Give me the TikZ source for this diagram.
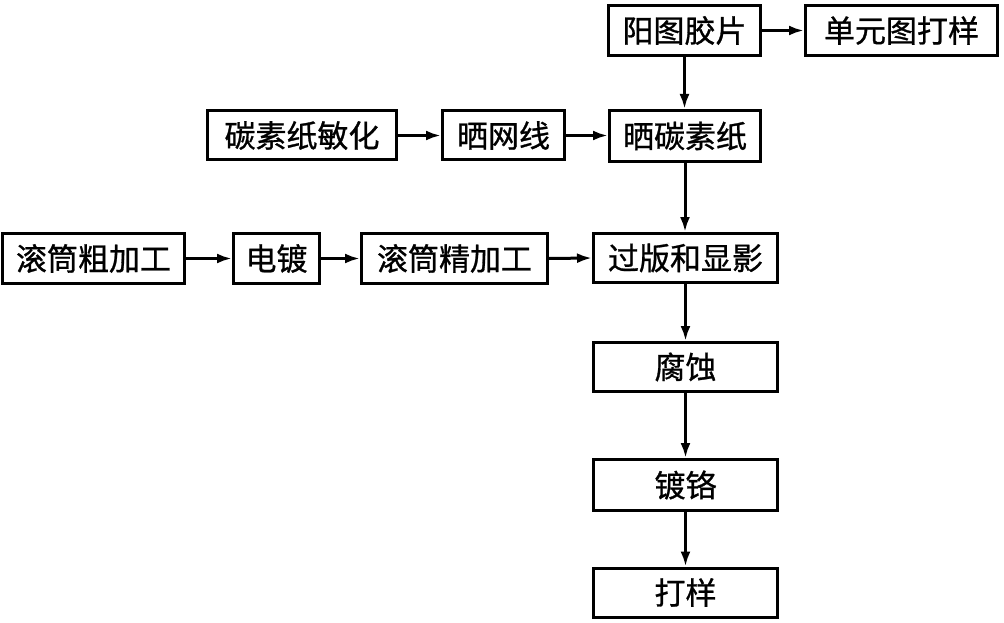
\documentclass[tikz,border=0pt]{standalone}
\usepackage{fontspec}
\setmainfont{Noto Sans CJK SC}
\newfontfamily\boxfont{Noto Sans CJK SC}[FakeBold=0.9]
\usetikzlibrary{arrows.meta}
\tikzset{
  box/.style={draw, line width=3pt, inner sep=0pt, font=\boxfont\fontsize{31}{31}\selectfont},
  arr/.style={line width=3pt, -{Latex[length=15pt,width=10pt]}}
}
\begin{document}
\begin{tikzpicture}[x=1pt,y=-1pt]
\useasboundingbox (0,0) rectangle (1004,623);
\node[box, minimum width=152pt, minimum height=50pt] (yt) at (684.5,30.5) {阳图胶片};
\node[box, minimum width=192pt, minimum height=50pt] (dy) at (901.5,30.5) {单元图打样};
\node[box, minimum width=189pt, minimum height=49pt] (tm) at (302,135.5) {碳素纸敏化};
\node[box, minimum width=122pt, minimum height=49pt] (sw) at (503.5,135.5) {晒网线};
\node[box, minimum width=151pt, minimum height=51pt] (st) at (685,136) {晒碳素纸};
\node[box, minimum width=182pt, minimum height=50pt] (gc) at (93.5,258.5) {滚筒粗加工};
\node[box, minimum width=86pt, minimum height=50pt] (dd) at (276.5,258.5) {电镀};
\node[box, minimum width=186pt, minimum height=50pt] (gj) at (454.5,258.5) {滚筒精加工};
\node[box, minimum width=184pt, minimum height=49pt] (gb) at (685.5,258) {过版和显影};
\node[box, minimum width=184pt, minimum height=49pt] (fs) at (685.5,367) {腐蚀};
\node[box, minimum width=184pt, minimum height=51pt] (dg) at (685.5,485) {镀铬};
\node[box, minimum width=184pt, minimum height=49pt] (dy2) at (685.5,592.5) {打样};
\draw[arr] (yt.east) -- (dy.west);
\draw[arr] (yt.south) -- (yt.south |- st.north);
\draw[arr] (tm.east) -- (sw.west);
\draw[arr] (sw.east) -- (sw.east -| st.west);
\draw[arr] (st.south) -- (st.south |- gb.north);
\draw[arr] (gc.east) -- (dd.west);
\draw[arr] (dd.east) -- (gj.west);
\draw[arr] (gj.east) -- (gb.west);
\draw[arr] (gb.south) -- (fs.north);
\draw[arr] (fs.south) -- (dg.north);
\draw[arr] (dg.south) -- (dy2.north);
\end{tikzpicture}
\end{document}
